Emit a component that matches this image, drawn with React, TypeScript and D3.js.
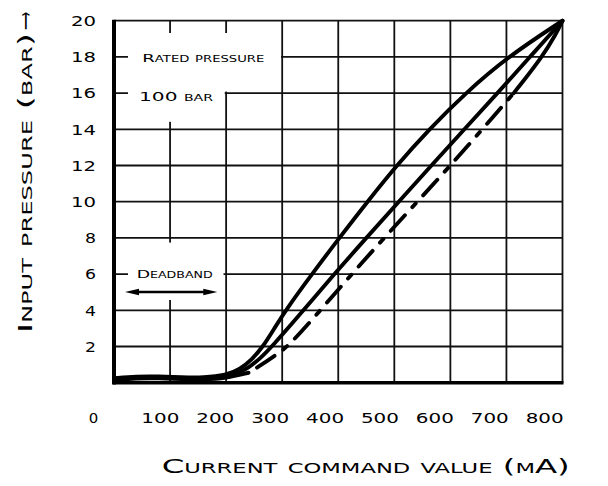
import React from "react";
import * as d3 from "d3";

// ---- data ----
const xTicks = [0, 100, 200, 300, 400, 500, 600, 700, 800];
const yTicks = [2, 4, 6, 8, 10, 12, 14, 16, 18, 20];
const yTickLabels = ["2", "4", "6", "8", "10", "12", "14", "16", "18", "20"];
const xTickLabels = ["0", "100", "200", "300", "400", "500", "600", "700", "800"];

// [current mA, pressure bar]
const upperCurve: [number, number][] = [
  [0, 0.25], [40, 0.35], [80, 0.35], [120, 0.3], [160, 0.28], [200, 0.4], [225, 0.75],
  [245, 1.25], [266, 2], [286, 3], [306, 4], [353, 6], [402, 8],
  [452, 10], [504, 12], [562, 14], [627, 16], [702, 18], [800, 20],
];
const middleCurve: [number, number][] = [
  [0, 0.2], [40, 0.3], [80, 0.3], [120, 0.25], [160, 0.22], [200, 0.3], [232, 0.65],
  [258, 1.25], [282, 2], [338, 4], [393, 6], [450, 8], [508, 10], [566, 12],
  [625, 14], [684, 16], [742, 18], [800, 20],
];
const lowerCurve: [number, number][] = [
  [0, 0.15], [40, 0.25], [80, 0.25], [120, 0.2], [160, 0.18], [200, 0.25], [240, 0.55],
  [264, 1.0], [287, 1.5], [311, 2], [368, 4], [424, 6], [482, 8], [541, 10],
  [600, 12], [657, 14], [713, 16], [764, 18], [789, 19.3], [800, 20],
];
const dashStart = 240;
const dashEnd = 713;

const ratedText = "Rated pressure";
const ratedValue = "100 bar";
const deadbandText = "Deadband";
const xTitle = "Current command value  (mA)";
const yTitle = "Input pressure (bar)";

export default function App() {
  const W = 608, H = 486;
  const x = d3.scaleLinear().domain([0, 800]).range([114, 562.5]);
  const y = d3.scaleLinear().domain([0, 20]).range([382.7, 20.7]);
  const xLab = d3.scaleLinear().domain([100, 800]).range([x(100) - 9.7, x(800) - 17.8]);

  const line = d3
    .line<[number, number]>()
    .x((d) => x(d[0]))
    .y((d) => y(d[1]))
    .curve(d3.curveBasis);

  const font = "'DejaVu Sans', sans-serif";
  const gridW = 1.8;
  const curveW = 3.9;

  const lowerBase = lowerCurve.filter((d) => d[0] <= dashStart);
  const lowerDash = lowerCurve.filter((d) => d[0] >= dashStart && d[0] <= dashEnd);
  const lowerTop = lowerCurve.filter((d) => d[0] >= dashEnd);

  return (
    <svg
      width={W}
      height={H}
      style={{ position: "absolute", left: 0, top: 0, background: "#fff" }}
      fontFamily={font}
    >
      {/* grid */}
      <g stroke="#111" strokeWidth={gridW}>
        {xTicks.filter((t) => t > 0).map((t) => (
          <line key={"v" + t} x1={x(t)} x2={x(t)} y1={y(20)} y2={y(0)} />
        ))}
        {yTicks.map((t) => (
          <line key={"h" + t} x1={x(0)} x2={x(800)} y1={y(t)} y2={y(t)} />
        ))}
      </g>
      {/* cleared label areas */}
      <g fill="#fff">
        <rect x={x(0) + 14} y={y(20) + 12.3} width={x(300) - x(0) - 15.2} height={y(16) - y(20) - 13.8} />
        <rect x={x(0) + 14} y={y(16) - 1.5} width={x(200) - x(0) - 15.4} height={y(14) - y(16) - 6} />
        <rect x={x(0) + 14} y={y(8) + 4.7} width={x(200) - x(0) - 16.6} height={y(6) - y(8) + 21.2} />
      </g>
      {/* axes */}
      <line x1={x(0) - 1} x2={x(800) + 1} y1={y(0)} y2={y(0)} stroke="#000" strokeWidth={3.6} />
      <line x1={x(0)} x2={x(0)} y1={y(20) - 1} y2={y(0) + 1.8} stroke="#000" strokeWidth={4} />

      {/* curves */}
      <g fill="none" stroke="#000" strokeWidth={curveW} strokeLinecap="round" strokeLinejoin="round">
        <path d={line(upperCurve) || ""} />
        <path d={line(middleCurve) || ""} />
        <path d={line(lowerBase) || ""} />
        <path d={line(lowerDash) || ""} strokeDasharray="21 11 5 11" strokeDashoffset={-10} />
        <path d={line(lowerTop) || ""} />
      </g>

      {/* y tick labels */}
      {yTicks.map((t, i) => (
        <text
          key={"yl" + t}
          x={96 - (yTickLabels[i].length === 1 ? 11 : 25)}
          y={y(t) + 5.3}
          fontSize={14.5}
          textLength={yTickLabels[i].length === 1 ? 11 : 25}
          lengthAdjust="spacingAndGlyphs"
        >
          {yTickLabels[i]}
        </text>
      ))}
      {/* x tick labels */}
      {xTicks.map((t, i) => {
        const w = xTickLabels[i].length === 1 ? 9.5 : 38;
        const cx = t === 0 ? x(0) - 20.5 : xLab(t);
        return (
          <text
            key={"xl" + t}
            x={cx - w / 2}
            y={423.3}
            fontSize={14.5}
            textLength={w}
            lengthAdjust="spacingAndGlyphs"
          >
            {xTickLabels[i]}
          </text>
        );
      })}

      {/* annotations */}
      <text x={142.3} y={62} fontSize={11} style={{ fontVariant: "small-caps" }} textLength={122} lengthAdjust="spacingAndGlyphs">
        {ratedText}
      </text>
      <text x={139} y={100.7} fontSize={11.5} style={{ fontVariant: "small-caps" }} textLength={74} lengthAdjust="spacingAndGlyphs">
        {ratedValue}
      </text>
      <text x={136.7} y={278.3} fontSize={11} style={{ fontVariant: "small-caps" }} textLength={76} lengthAdjust="spacingAndGlyphs">
        {deadbandText}
      </text>
      {/* deadband arrow */}
      <g>
        <line x1={x(0) + 20} x2={x(0) + 94} y1={292} y2={292} stroke="#000" strokeWidth={2.4} />
        <path d={`M${x(0) + 11},292 L${x(0) + 25},288.8 L${x(0) + 25},295.2 Z`} fill="#000" />
        <path d={`M${x(0) + 103.3},292 L${x(0) + 89.3},288.8 L${x(0) + 89.3},295.2 Z`} fill="#000" />
      </g>

      {/* axis titles */}
      <text x={161.7} y={473.3} fontSize={20} style={{ fontVariant: "small-caps" }} textLength={408} lengthAdjust="spacingAndGlyphs">
        {xTitle}
      </text>
      <g transform="translate(31.7,333) rotate(-90)">
        <text x={0} y={0} fontSize={19.5} style={{ fontVariant: "small-caps" }} textLength={300} lengthAdjust="spacingAndGlyphs">
          {yTitle}
        </text>
        <text x={303} y={0} fontSize={19.5} textLength={18} lengthAdjust="spacingAndGlyphs">
          {"\u27F6"}
        </text>
      </g>
    </svg>
  );
}
